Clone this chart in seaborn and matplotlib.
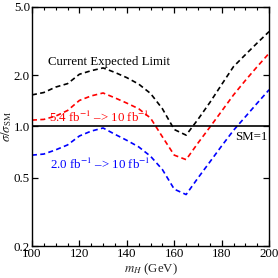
import numpy as np
import pandas as pd
import matplotlib
matplotlib.use("Agg")
import matplotlib.pyplot as plt
import seaborn as sns
from matplotlib.ticker import FixedLocator, MultipleLocator, NullLocator

# Higgs mass grid (GeV)
m_h = [100, 105, 110, 115, 120, 125, 130, 135, 140, 145, 150,
       155, 160, 165, 170, 175, 180, 185, 190, 195, 200]

# sigma / sigma_SM
current_limit = [1.53, 1.58, 1.70, 1.78, 2.02, 2.12, 2.20, 2.07, 1.93, 1.77, 1.56,
                 1.27, 0.96, 0.89, 1.10, 1.38, 1.76, 2.24, 2.63, 3.08, 3.59]
lumi_54_to_10 = [1.09, 1.10, 1.15, 1.24, 1.42, 1.51, 1.57, 1.47, 1.37, 1.27, 1.12,
                 0.87, 0.68, 0.64, 0.80, 0.99, 1.23, 1.53, 1.86, 2.24, 2.68]
lumi_20_to_10 = [0.68, 0.69, 0.73, 0.78, 0.88, 0.94, 0.98, 0.90, 0.83, 0.76, 0.67,
                 0.56, 0.43, 0.40, 0.50, 0.62, 0.77, 0.95, 1.14, 1.37, 1.64]

y_ticks = [0.2, 0.5, 1.0, 2.0, 5.0]
x_ticks = [100, 120, 140, 160, 180, 200]

sns.set_style("ticks")
plt.rcParams['font.family'] = ['Liberation Serif', 'DejaVu Serif']
plt.rcParams['mathtext.fontset'] = 'stix'

fs = 9.3
fig = plt.figure(figsize=(2.78, 2.78), dpi=100)
ax = fig.add_axes([0.115, 0.115, 0.853, 0.86])

dash = (3.0, 2.0)
sns.lineplot(x=m_h, y=current_limit, ax=ax, color='black', lw=1.2)
sns.lineplot(x=m_h, y=lumi_54_to_10, ax=ax, color='#ff0000', lw=1.2)
sns.lineplot(x=m_h, y=lumi_20_to_10, ax=ax, color='#0000ff', lw=1.2)
for line in ax.lines:
    line.set_dashes(dash)

ax.axhline(1.0, color='black', lw=1.2)

ax.set_yscale('log')
ax.set_xlim(100, 200)
ax.set_ylim(0.2, 5.0)
ax.yaxis.set_major_locator(FixedLocator(y_ticks))
ax.yaxis.set_minor_locator(NullLocator())
ax.set_yticklabels([f"{v:.1f}" for v in y_ticks])
ax.xaxis.set_major_locator(FixedLocator(x_ticks))
ax.xaxis.set_minor_locator(MultipleLocator(5))

ax.tick_params(which='both', direction='in', top=True, right=True, labelsize=fs,
               colors='black', pad=1.5)
ax.tick_params(which='major', length=4, width=0.9)
ax.tick_params(which='minor', length=2, width=0.8)
for s in ax.spines.values():
    s.set_linewidth(1.0)
    s.set_color('black')

ax.set_xlabel(r'$m_H$ (GeV)', fontsize=fs, labelpad=1)
ax.set_ylabel(r'$\sigma/\sigma_{\rm SM}$', fontsize=fs, labelpad=0)

ax.text(106.8, 2.38, 'Current Expected Limit', fontsize=fs, color='black', va='center')
ax.text(107.3, 1.13, '5.4 fb$^{-1}$ \u2013> 10 fb$^{-1}$', fontsize=fs, color='#ff0000', va='center')
ax.text(107.6, 0.60, '2.0 fb$^{-1}$ \u2013> 10 fb$^{-1}$', fontsize=fs, color='#0000ff', va='center')
ax.text(199.3, 0.87, 'SM=1', fontsize=fs, color='black', va='center', ha='right')

fig.savefig("out.png", dpi=100)
